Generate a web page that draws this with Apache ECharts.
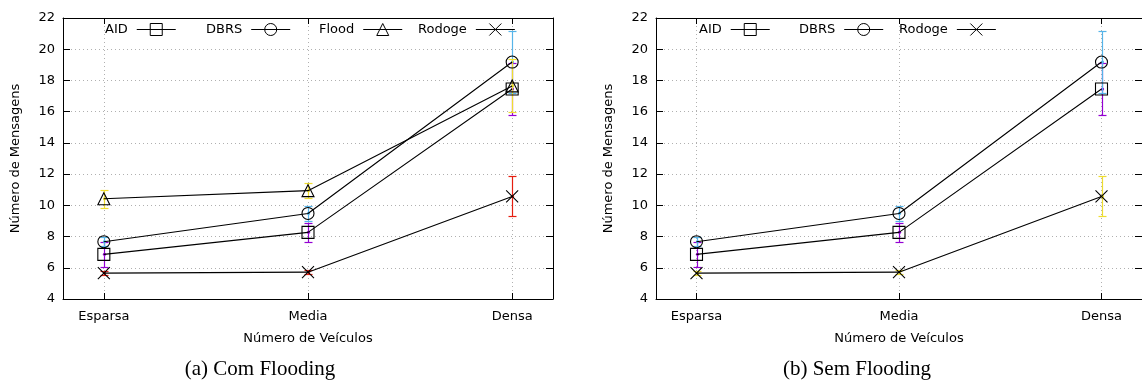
<!DOCTYPE html>
<html>
<head>
<meta charset="utf-8">
<script src="https://cdn.jsdelivr.net/npm/echarts@6/dist/echarts.min.js"></script>
<style>
html,body{margin:0;padding:0;background:#fff;}
#chart{width:1142px;height:390px;}
</style>
</head>
<body>
<div id="chart"></div>
<script>
// ---- data ----
const categories = ['Esparsa', 'Media', 'Densa'];
const xTickValues = [0, 1, 2];

// (a) Com Flooding
const aidA = [6.86, 8.27, 17.45];
const aidErrA = [0.8, 0.6, 1.65];
const dbrsA = [7.67, 9.48, 19.18];
const dbrsErrA = [0.3, 0.46, 1.96];
const floodA = [10.42, 10.94, 17.65];
const floodErrA = [0.56, 0.47, 1.7];
const rodogeA = [5.66, 5.72, 10.57];
const rodogeErrA = [0.15, 0.15, 1.28];

// (b) Sem Flooding
const aidB = [6.86, 8.27, 17.45];
const aidErrB = [0.8, 0.6, 1.65];
const dbrsB = [7.67, 9.48, 19.18];
const dbrsErrB = [0.3, 0.46, 1.96];
const rodogeB = [5.66, 5.72, 10.57];
const rodogeErrB = [0.15, 0.15, 1.28];

const yAxisTitle = 'Número de Mensagens';
const xAxisTitle = 'Número de Veículos';
const captionA = '(a) Com Flooding';
const captionB = '(b) Sem Flooding';

// ---- styling ----
const FONT = 'DejaVu Sans';
const C_PURPLE = '#9400D3', C_BLUE = '#56B4E9', C_YELLOW = '#EEDD30', C_RED = '#E51E10';
const SYM_X = 'path://M0,0L10,10M10,0L0,10';

const chart = echarts.init(document.getElementById('chart'), null, {renderer: 'canvas'});

function gridDef(left) {
  return {left: left, top: 18, width: 490, height: 281, containLabel: false};
}

function xAxes(gi) {
  return [
    {
      type: 'value', gridIndex: gi, position: 'bottom', min: -0.2, max: 2.2,
      name: xAxisTitle, nameLocation: 'middle', nameGap: 33,
      nameTextStyle: {fontFamily: FONT, fontSize: 13, color: '#000'},
      axisLine: {show: true, onZero: false, lineStyle: {color: '#000', width: 1}},
      axisTick: {show: true, inside: true, length: 6, customValues: xTickValues, lineStyle: {color: '#000'}},
      axisLabel: {show: true, customValues: xTickValues, margin: 11, fontFamily: FONT, fontSize: 13, color: '#000',
        formatter: v => categories[Math.round(v)]},
      splitLine: {show: true, lineStyle: {color: '#b0b0b0', width: 1, type: [1, 3]}}
    },
    {
      type: 'value', gridIndex: gi, position: 'top', min: -0.2, max: 2.2,
      axisLine: {show: true, onZero: false, lineStyle: {color: '#000', width: 1}},
      axisTick: {show: true, inside: true, length: 6, customValues: xTickValues, lineStyle: {color: '#000'}},
      axisLabel: {show: false},
      splitLine: {show: false}
    }
  ];
}

function yAxes(gi) {
  return [
    {
      type: 'value', gridIndex: gi, position: 'left', min: 4, max: 22, interval: 2,
      name: yAxisTitle, nameLocation: 'middle', nameGap: 41, nameRotate: 90,
      nameTextStyle: {fontFamily: FONT, fontSize: 13, color: '#000'},
      axisLine: {show: true, onZero: false, lineStyle: {color: '#000', width: 1}},
      axisTick: {show: true, inside: true, length: 7, lineStyle: {color: '#000'}},
      axisLabel: {show: true, margin: 8, fontFamily: FONT, fontSize: 13, color: '#000'},
      splitLine: {show: true, lineStyle: {color: '#b0b0b0', width: 1, type: [1, 3]}}
    },
    {
      type: 'value', gridIndex: gi, position: 'right', min: 4, max: 22, interval: 2,
      axisLine: {show: true, onZero: false, lineStyle: {color: '#000', width: 1}},
      axisTick: {show: true, inside: true, length: 7, lineStyle: {color: '#000'}},
      axisLabel: {show: false},
      splitLine: {show: false}
    }
  ];
}

function errData(vals, errs) {
  return vals.map((v, i) => [xTickValues[i], v - errs[i], v + errs[i], v]);
}

function errSeries(name, vals, errs, color, gi) {
  return {
    type: 'custom', name: name, xAxisIndex: gi * 2, yAxisIndex: gi * 2,
    silent: true, clip: false, z: 2,
    encode: {x: 0, y: [1, 2]},
    data: errData(vals, errs),
    renderItem: function (params, api) {
      const x = api.value(0), lo = api.value(1), hi = api.value(2), v = api.value(3);
      const pl = api.coord([x, lo]), ph = api.coord([x, hi]), pv = api.coord([x, v]);
      const cx = Math.round(pl[0]) + 0.5;
      const yl = Math.round(pl[1]) + 0.5, yh = Math.round(ph[1]) + 0.5;
      const cap = 4;
      const st = {stroke: color, lineWidth: 1.2};
      return {
        type: 'group',
        children: [
          {type: 'line', shape: {x1: cx, y1: yl, x2: cx, y2: yh}, style: st},
          {type: 'line', shape: {x1: cx - cap, y1: yl, x2: cx + cap, y2: yl}, style: st},
          {type: 'line', shape: {x1: cx - cap, y1: yh, x2: cx + cap, y2: yh}, style: st},
          {type: 'circle', shape: {cx: cx, cy: pv[1], r: 1.6}, style: {fill: color}}
        ]
      };
    }
  };
}

function lineSeries(name, vals, symbol, gi) {
  return {
    type: 'line', name: name, xAxisIndex: gi * 2, yAxisIndex: gi * 2,
    data: vals.map((v, i) => [xTickValues[i], v]),
    symbol: symbol, symbolSize: 12, showSymbol: true, z: 3,
    lineStyle: {color: '#000', width: 1.1},
    itemStyle: {color: 'rgba(0,0,0,0)', borderColor: '#000', borderWidth: 1.1},
    emphasis: {disabled: true},
    silent: true
  };
}

function legendItem(name, left) {
  return {
    data: [name], left: left, top: 23, align: 'right', orient: 'horizontal',
    itemWidth: 39, itemHeight: 15, padding: 0, selectedMode: false,
    itemStyle: {borderWidth: 1},
    lineStyle: {width: 1},
    textStyle: {fontFamily: FONT, fontSize: 13, color: '#000', padding: [0, 4, 0, 0]}
  };
}

const option = {
  animation: false,
  backgroundColor: '#fff',
  grid: [gridDef(63), gridDef(656)],
  xAxis: [...xAxes(0), ...xAxes(1)],
  yAxis: [...yAxes(0), ...yAxes(1)],
  legend: [
    legendItem('AID', 105), legendItem('DBRS', 206), legendItem('Flood', 319), legendItem('Rodoge', 418),
    legendItem('AID', 699), legendItem('DBRS', 799), legendItem('Rodoge', 899)
  ],
  series: [
    errSeries('errAIDa', aidA, aidErrA, C_PURPLE, 0),
    errSeries('errDBRSa', dbrsA, dbrsErrA, C_BLUE, 0),
    errSeries('errFlooda', floodA, floodErrA, C_YELLOW, 0),
    errSeries('errRodogea', rodogeA, rodogeErrA, C_RED, 0),
    lineSeries('AID', aidA, 'rect', 0),
    lineSeries('DBRS', dbrsA, 'circle', 0),
    lineSeries('Flood', floodA, 'triangle', 0),
    lineSeries('Rodoge', rodogeA, SYM_X, 0),

    errSeries('errAIDb', aidB, aidErrB, C_PURPLE, 1),
    errSeries('errDBRSb', dbrsB, dbrsErrB, C_BLUE, 1),
    errSeries('errRodogeb', rodogeB, rodogeErrB, C_YELLOW, 1),
    lineSeries('AID', aidB, 'rect', 1),
    lineSeries('DBRS', dbrsB, 'circle', 1),
    lineSeries('Rodoge', rodogeB, SYM_X, 1)
  ],
  graphic: [
    {type: 'text', x: 260, y: 369, style: {text: captionA, font: '21px "Liberation Serif"', fill: '#000', align: 'center', verticalAlign: 'middle'}},
    {type: 'text', x: 857, y: 369, style: {text: captionB, font: '21px "Liberation Serif"', fill: '#000', align: 'center', verticalAlign: 'middle'}}
  ]
};

chart.setOption(option);
</script>
</body>
</html>
